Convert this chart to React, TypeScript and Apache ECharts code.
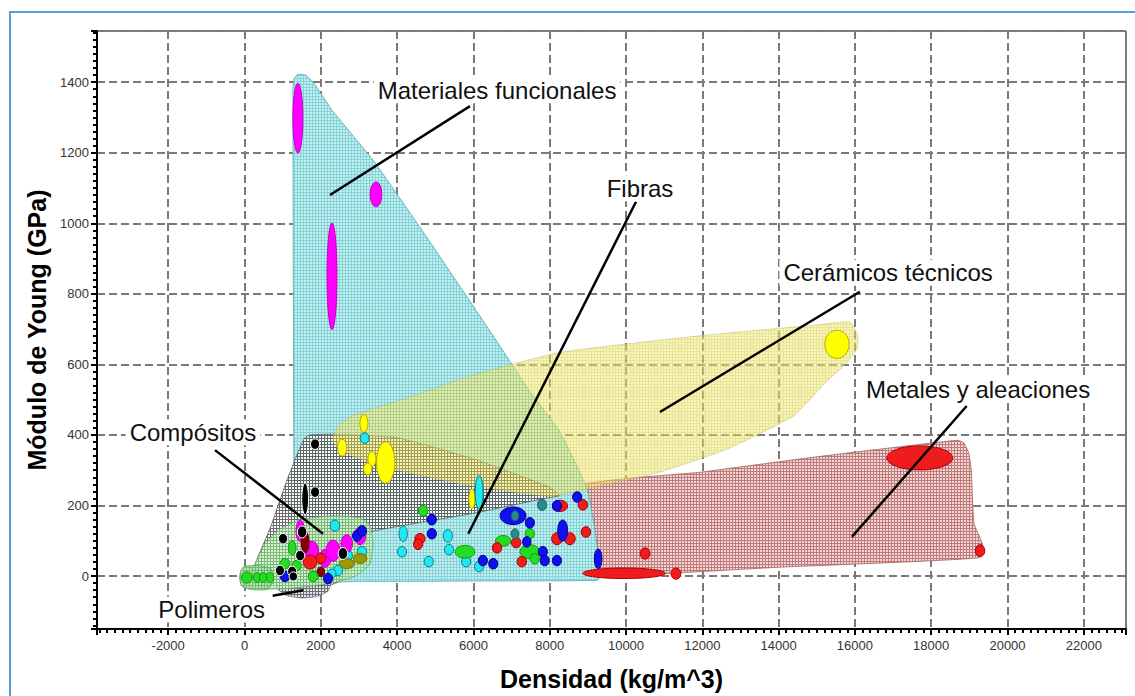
import React, { useEffect, useRef } from 'react';
import * as echarts from 'echarts';

const FONT = "'Liberation Sans', Arial, sans-serif";

// ---- Axis ranges ----
const xMin = -3866;
const xMax = 23106;
const yMin = -150;
const yMax = 1545;

// ---- Material family envelopes (density kg/m^3, modulus GPa) ----
const metalsRegion = [[8400,245],[12000,295],[15000,338],[18680,385],[18850,378],[18980,350],[19050,300],[19120,150],[19350,88],[19250,52],[14000,25],[9000,-5],[8400,-5]];
const funcRegion = [[1270,1380],[1300,1410],[1400,1422],[1600,1420],[1800,1400],[2300,1320],[3370,1179],[4520,1001],[6400,700],[7500,520],[8270,408],[8980,247],[9200,120],[9320,0],[9250,-12],[6000,-14],[3000,-15],[1350,-10],[1300,200]];
const fibrasRegion = [[1720,400],[2300,402],[4000,392],[6000,332],[8000,252],[8250,228],[7950,222],[6000,178],[4500,150],[3400,128],[2900,110],[2700,40],[2550,-10],[2200,-28],[1500,-30],[800,-22],[230,-8],[300,40],[670,135],[1100,268],[1400,350],[1580,392]];
const ceramRegion = [[2320,395],[2500,430],[2840,455],[4260,505],[6000,570],[8270,634],[12000,682],[15000,712],[15870,720],[16080,680],[16050,643],[15790,605],[15200,545],[14380,453],[12650,360],[10890,295],[8980,247],[8000,226],[6000,255],[4000,300],[2840,340],[2450,362],[2330,380]];
const polyRegion = [[800,-5],[850,-35],[1100,-55],[1500,-62],[1900,-58],[2200,-42],[2280,-10],[2100,20],[1100,20]];
const composRegion = [[144,-1],[275,35],[537,92],[930,134],[1455,160],[2320,171],[3027,165],[3290,143],[3370,92],[3290,35],[2900,-1],[2241,-21],[1192,-35],[406,-35]];
const foamRegion = [[-130,-5],[-80,-28],[150,-38],[600,-38],[750,-15],[700,20],[400,30],[0,28],[-100,15]];

// ---- Material bubbles [density, modulus, half-width, half-height] ----
const yellowBubbles = [[15530,657,320,40],[3700,322,240,59],[3130,433,105,25],[2560,364,120,24],[3340,332,105,21],[3230,304,110,17],[5960,219,80,28]];
const cyanBubbles = [[3150,391,120,15],[6150,237,105,47],[2370,143,125,16],[4160,120,110,22],[4130,69,120,15],[4830,41,120,15],[5330,114,120,18],[5360,75,120,15],[5810,41,120,15],[6150,27,120,15],[3080,69,125,15],[2450,16,120,15],[2710,58,120,15],[2290,7,110,13]];
const magentaBubbles = [[1400,1298,131,99],[3447,1082,153,35],[2293,850,131,151],[1770,69,170,30],[2110,50,150,25],[2320,72,180,30],[2680,92,150,25],[3030,114,150,25],[1460,128,110,30],[1600,90,100,25]];
const darkRedBubbles = [[1590,97,100,30],[2000,12,100,14]];
const oliveBubbles = [[2680,35,200,14],[3030,50,180,14]];
const greenBubbles = [[4680,185,125,15],[5780,69,260,18],[6780,100,200,15],[7480,69,260,20],[7480,120,120,15],[7610,49,120,15],[1800,-1,130,15],[1060,35,130,15],[1370,30,120,15],[60,-4,140,16],[330,-4,100,14],[490,-4,100,14],[670,-4,100,14],[1250,80,100,20]];
const redBubbles = [[17700,335,865,34],[9950,8,1080,15],[10500,64,130,16],[11310,7,130,16],[19280,72,125,17],[4600,106,135,15],[4550,90,120,15],[6620,80,125,15],[7120,95,125,15],[7270,41,125,15],[8270,199,200,16],[8870,202,125,15],[8190,106,140,17],[8530,106,140,17],[8950,125,125,15],[1720,40,180,20],[2000,50,130,15]];
const blueBubbles = [[7040,171,340,25],[4910,160,120,15],[4910,120,120,15],[6250,44,120,15],[6520,35,120,15],[7480,151,120,15],[7820,69,120,15],[7870,44,120,15],[8190,44,120,15],[8190,199,120,15],[8720,224,120,15],[8340,129,130,30],[9270,49,100,28],[7400,97,110,15],[2950,114,120,15],[3080,128,120,15],[2190,-7,120,15],[1060,-1,120,15]];
const tealBubbles = [[7090,171,100,14],[7800,202,120,16],[7090,120,100,14]];
const blackBubbles = [[1850,374,120,15],[1590,219,90,45],[1850,238,120,15],[1010,106,120,15],[1460,58,120,15],[1510,125,125,17],[2580,64,125,17],[930,16,120,15],[1250,13,120,15],[1280,-1,110,13]];

// ---- Annotations ----
const annotationLabels = ['Materiales funcionales', 'Fibras', 'Cerámicos técnicos', 'Metales y aleaciones', 'Compósitos', 'Polimeros'];
const annotationX = [6620, 10367, 16870, 19230, -1350, -860];
const annotationY = [1377, 1099, 860, 530, 408, -95];
const pointerFrom = [[5910,1332],[10262,1061],[16130,806],[18930,482],[-773,357],[739,-56]];
const pointerTo = [[2241,1080],[5867,120],[10890,465],[15920,111],[2058,120],[1541,-40]];

function makePattern(bg: string, fg: string, step: number) {
  const c = document.createElement('canvas');
  c.width = step;
  c.height = step;
  const ctx = c.getContext('2d')!;
  ctx.fillStyle = bg;
  ctx.fillRect(0, 0, step, step);
  ctx.fillStyle = fg;
  ctx.fillRect(0, 0, step, 1);
  ctx.fillRect(0, 0, 1, step);
  return { image: c, repeat: 'repeat', imageWidth: step, imageHeight: step } as any;
}

export default function App() {
  const ref = useRef<HTMLDivElement>(null);
  useEffect(() => {
    if (!ref.current) return;
    const chart = echarts.init(ref.current, undefined, { renderer: 'svg' });

    const regions = [
      { verts: metalsRegion, fill: makePattern('#f3d6d6', '#c07a7a', 3), stroke: '#a06060', opacity: 1 },
      { verts: funcRegion, fill: makePattern('#c4f0f2', '#86d2d6', 3), stroke: '#4aa8b0', opacity: 1 },
      { verts: fibrasRegion, fill: makePattern('#ffffff', '#5a5a5a', 3), stroke: '#555555', opacity: 0.9 },
      { verts: ceramRegion, fill: makePattern('#f8f070', '#d6ca52', 3), stroke: '#b8b060', opacity: 0.55 },
      { verts: polyRegion, fill: makePattern('#e2e2f8', '#666666', 3), stroke: '#777777', opacity: 0.95 },
      { verts: composRegion, fill: makePattern('#d2f0c8', '#80c880', 3), stroke: '#60a860', opacity: 0.85 },
      { verts: foamRegion, fill: makePattern('#b0e0b0', '#66b866', 3), stroke: '#50a050', opacity: 0.9 },
    ];

    const groups = [
      { data: yellowBubbles, fill: '#ffff00', stroke: '#b8a800' },
      { data: cyanBubbles, fill: '#22e6f0', stroke: '#00808c' },
      { data: magentaBubbles, fill: '#ff00ff', stroke: '#c000c0' },
      { data: darkRedBubbles, fill: '#8b0000', stroke: '#600000' },
      { data: oliveBubbles, fill: '#999900', stroke: '#707000' },
      { data: greenBubbles, fill: '#22dd22', stroke: '#139913' },
      { data: redBubbles, fill: '#ee1c1c', stroke: '#b00000' },
      { data: blueBubbles, fill: '#1010ee', stroke: '#00008b' },
      { data: tealBubbles, fill: '#2a8a8a', stroke: '#1a6060' },
      { data: blackBubbles, fill: '#000000', stroke: '#ffffff' },
    ];
    const bubbleData: number[][] = [];
    groups.forEach((g, gi) => g.data.forEach((b) => bubbleData.push([b[0], b[1], b[2], b[3], gi])));

    const axisText = { color: '#333', fontSize: 13, fontFamily: FONT };

    chart.setOption({
      animation: false,
      backgroundColor: '#ffffff',
      graphic: [
        {
          type: 'rect',
          silent: true,
          z: -10,
          shape: { x: 10, y: 12, width: 1300, height: 900 },
          style: { fill: 'none', stroke: '#5b9bd5', lineWidth: 2 },
        },
      ],
      grid: {
        left: 97,
        top: 31,
        width: 1029,
        height: 599,
        show: true,
        borderColor: '#000',
        borderWidth: 1,
        backgroundColor: 'transparent',
      },
      xAxis: {
        type: 'value',
        min: xMin,
        max: xMax,
        splitNumber: 13,
        name: 'Densidad (kg/m^3)',
        nameLocation: 'middle',
        nameGap: 37,
        nameTextStyle: { fontSize: 25, fontWeight: 'bold', color: '#000', fontFamily: FONT },
        axisLine: { show: true, onZero: false, lineStyle: { color: '#000', width: 2 } },
        axisTick: { show: true, length: 6, lineStyle: { color: '#000', width: 2 } },
        minorTick: { show: true, splitNumber: 10, length: 4, lineStyle: { color: '#000', width: 2 } },
        splitLine: { show: true, lineStyle: { color: '#7a7a7a', width: 2, type: [8, 4] } },
        axisLabel: { ...axisText, margin: 10, showMinLabel: false, showMaxLabel: false, formatter: (v: number) => String(v) },
      },
      yAxis: {
        type: 'value',
        min: yMin,
        max: yMax,
        splitNumber: 8,
        name: 'Módulo de Young (GPa)',
        nameLocation: 'middle',
        nameGap: 41,
        nameTextStyle: { fontSize: 25, fontWeight: 'bold', color: '#000', fontFamily: FONT },
        axisLine: { show: true, onZero: false, lineStyle: { color: '#000', width: 2 } },
        axisTick: { show: true, length: 6, lineStyle: { color: '#000', width: 2 } },
        minorTick: { show: true, splitNumber: 10, length: 4, lineStyle: { color: '#000', width: 2 } },
        splitLine: { show: true, lineStyle: { color: '#7a7a7a', width: 2, type: [8, 4] } },
        axisLabel: { ...axisText, margin: 8, showMinLabel: false, showMaxLabel: false, formatter: (v: number) => String(v) },
      },
      series: [
        {
          type: 'custom',
          name: 'regions',
          coordinateSystem: 'cartesian2d',
          silent: true,
          z: 3,
          encode: { x: 0, y: 1 },
          data: regions.map((r, i) => [r.verts[0][0], r.verts[0][1], i]),
          renderItem: (params: any, api: any) => {
            const r = regions[params.dataIndex];
            const pts = r.verts.map((v) => api.coord(v));
            return {
              type: 'polygon',
              shape: { points: pts, smooth: 0.15 },
              style: { fill: r.fill, stroke: r.stroke, lineWidth: 0.8, opacity: r.opacity },
            };
          },
        },
        {
          type: 'custom',
          name: 'materials',
          coordinateSystem: 'cartesian2d',
          silent: true,
          z: 4,
          encode: { x: 0, y: 1 },
          data: bubbleData,
          renderItem: (params: any, api: any) => {
            const c = api.coord([api.value(0), api.value(1)]);
            const s = api.size([api.value(2), api.value(3)]);
            const g = groups[api.value(4)];
            return {
              type: 'ellipse',
              shape: { cx: c[0], cy: c[1], rx: s[0], ry: s[1] },
              style: { fill: g.fill, stroke: g.stroke, lineWidth: 1 },
            };
          },
        },
        {
          type: 'custom',
          name: 'pointers',
          coordinateSystem: 'cartesian2d',
          silent: true,
          z: 5,
          encode: { x: 0, y: 1 },
          data: pointerFrom.map((p, i) => [p[0], p[1], pointerTo[i][0], pointerTo[i][1]]),
          renderItem: (params: any, api: any) => {
            const a = api.coord([api.value(0), api.value(1)]);
            const b = api.coord([api.value(2), api.value(3)]);
            return {
              type: 'line',
              shape: { x1: a[0], y1: a[1], x2: b[0], y2: b[1] },
              style: { stroke: '#000', lineWidth: 2.5 },
            };
          },
        },
        {
          type: 'custom',
          name: 'labels',
          coordinateSystem: 'cartesian2d',
          silent: true,
          z: 6,
          encode: { x: 0, y: 1 },
          data: annotationLabels.map((t, i) => [annotationX[i], annotationY[i], i]),
          renderItem: (params: any, api: any) => {
            const c = api.coord([api.value(0), api.value(1)]);
            return {
              type: 'text',
              x: c[0],
              y: c[1],
              style: {
                text: annotationLabels[params.dataIndex],
                fill: '#111',
                fontSize: 24,
                fontFamily: FONT,
                align: 'center',
                verticalAlign: 'middle',
                backgroundColor: '#fff',
                padding: [1, 4],
              },
            };
          },
        },
      ],
    });
    return () => chart.dispose();
  }, []);

  return <div ref={ref} style={{ position: 'absolute', left: 0, top: 0, width: 1135, height: 696 }} />;
}
